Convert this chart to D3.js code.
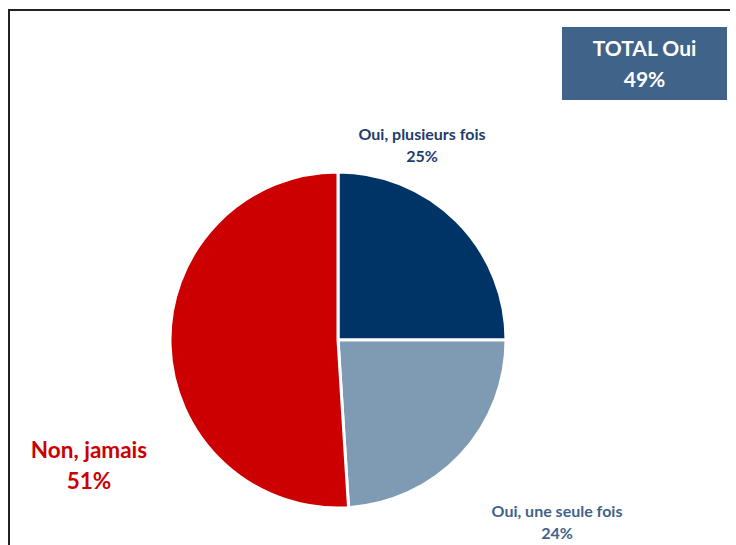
<!DOCTYPE html>
<html><head><meta charset="utf-8">
<script src="https://cdn.jsdelivr.net/npm/d3@7"></script>
<style>body{margin:0;background:#fff;}svg{display:block;}</style>
</head><body>
<svg id="chart" width="736" height="545"></svg>
<script>
const categories = ["Oui, plusieurs fois", "Oui, une seule fois", "Non, jamais"];
const values = [25, 24, 51];
const valueLabels = ["25%", "24%", "51%"];
const sliceColors = ["#003366", "#7f9bb4", "#cc0000"];
const totalLabel = "TOTAL Oui";
const totalValue = "49%";

const svg = d3.select("#chart");
const font = "Lato, 'Open Sans', 'Liberation Sans', sans-serif";

// frame (top + left edges visible)
svg.append("path").attr("d", "M9,545V10H730").attr("fill", "none")
  .attr("stroke", "#222").attr("stroke-width", 2);

const cx = 338, cy = 340, r = 168;
const pie = d3.pie().sort(null).value(d => d.v).startAngle(0).endAngle(2 * Math.PI);
const arc = d3.arc().innerRadius(0).outerRadius(r);
const data = categories.map((c, i) => ({c, v: values[i], l: valueLabels[i], col: sliceColors[i]}));

const g = svg.append("g").attr("transform", `translate(${cx},${cy})`);
g.selectAll("path").data(pie(data)).join("path")
  .attr("d", arc).attr("fill", d => d.data.col)
  .attr("stroke", "#fff").attr("stroke-width", 3).attr("stroke-linejoin", "round");

// labels
const labelSpec = [
  {x: 422, y1: 140, y2: 162, size: 16, color: "#1f3d6b"},
  {x: 557, y1: 517, y2: 539, size: 16, color: "#3f6389"},
  {x: 89, y1: 458, y2: 489, size: 22.5, color: "#cc0000"}
];
data.forEach((d, i) => {
  const s = labelSpec[i];
  const t = svg.append("text").attr("text-anchor", "middle")
    .attr("font-family", font).attr("font-weight", "bold")
    .attr("font-size", s.size).attr("fill", s.color);
  t.append("tspan").attr("x", s.x).attr("y", s.y1).text(d.c);
  t.append("tspan").attr("x", s.x).attr("y", s.y2).text(d.l);
});

// total box
svg.append("rect").attr("x", 562).attr("y", 27).attr("width", 165).attr("height", 73)
  .attr("fill", "#3f6389");
const tt = svg.append("text").attr("text-anchor", "middle").attr("font-family", font)
  .attr("font-weight", "bold").attr("font-size", 21).attr("fill", "#fff");
tt.append("tspan").attr("x", 644.5).attr("y", 56).text(totalLabel);
tt.append("tspan").attr("x", 644.5).attr("y", 87).text(totalValue);
</script>
</body></html>
